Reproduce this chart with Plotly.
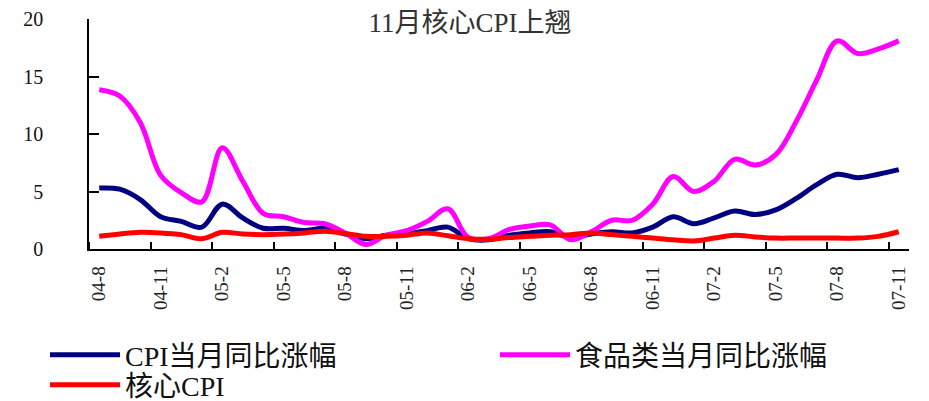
import plotly.graph_objects as go

# ──────────────────────────────────────────────────────────────────────
# Data (monthly, Aug 2004 – Nov 2007, % yoy)
# ──────────────────────────────────────────────────────────────────────
months = [
    "04-8", "04-9", "04-10", "04-11", "04-12",
    "05-1", "05-2", "05-3", "05-4", "05-5", "05-6",
    "05-7", "05-8", "05-9", "05-10", "05-11", "05-12",
    "06-1", "06-2", "06-3", "06-4", "06-5", "06-6",
    "06-7", "06-8", "06-9", "06-10", "06-11", "06-12",
    "07-1", "07-2", "07-3", "07-4", "07-5", "07-6",
    "07-7", "07-8", "07-9", "07-10", "07-11",
]

cpi_yoy = [
    5.3, 5.2, 4.3, 2.8, 2.4,
    1.9, 3.9, 2.7, 1.8, 1.8, 1.6, 1.8, 1.3, 0.9, 1.2, 1.3, 1.6,
    1.9, 0.9, 0.8, 1.2, 1.4, 1.5, 1.0, 1.3, 1.5, 1.4, 1.9, 2.8,
    2.2, 2.7, 3.3, 3.0, 3.4, 4.4, 5.6, 6.5, 6.2, 6.5, 6.9,
]

food_yoy = [
    13.85, 13.3, 11.0, 6.4, 4.9,
    4.1, 8.8, 5.9, 3.1, 2.8, 2.3, 2.2, 1.4, 0.4, 1.2, 1.6, 2.4,
    3.5, 1.0, 0.9, 1.7, 2.0, 2.1, 0.8, 1.5, 2.5, 2.5, 3.9, 6.3,
    5.0, 5.9, 7.8, 7.3, 8.2, 11.1, 14.7, 18.1, 17.0, 17.4, 18.1,
]

core_cpi = [
    1.1, 1.3, 1.45, 1.4, 1.25,
    0.9, 1.45, 1.3, 1.25, 1.3, 1.4, 1.55, 1.35, 1.1, 1.1, 1.2, 1.4,
    1.15, 0.9, 0.85, 1.0, 1.1, 1.2, 1.25, 1.4, 1.25, 1.1, 0.95, 0.8,
    0.7, 0.95, 1.2, 1.05, 0.95, 0.95, 0.95, 0.95, 0.95, 1.1, 1.5,
]

y_ticks = [0, 5, 10, 15, 20]
series_names = ["CPI当月同比涨幅", "食品类当月同比涨幅", "核心CPI"]
title_text = "11月核心CPI上翘"

# ──────────────────────────────────────────────────────────────────────
# Style
# ──────────────────────────────────────────────────────────────────────
FONT = "Liberation Serif, Noto Sans CJK SC, serif"
COLORS = ["#000080", "#FF00FF", "#FF0000"]
W, H = 929, 401
PAGE_PAD = 8  # default body margin of the html page

x = list(range(len(months)))
label_idx = x[::3]

fig = go.Figure()
for name, vals, color, leg in zip(
    series_names,
    [cpi_yoy, food_yoy, core_cpi],
    COLORS,
    ["legend", "legend2", "legend3"],
):
    fig.add_trace(go.Scatter(
        x=x,
        y=vals,
        mode="lines",
        name=name,
        legend=leg,
        showlegend=True,
        line=dict(color=color, width=5, shape="spline", smoothing=1.0),
        hoverinfo="skip",
    ))

legend_common = dict(
    orientation="h",
    bgcolor="rgba(0,0,0,0)",
    font=dict(family=FONT, size=28, color="#111111"),
    itemwidth=70,
    xref="container",
    yref="container",
    xanchor="left",
    yanchor="middle",
)


def cx(px):
    return (px - PAGE_PAD) / W


def cy(px):
    return 1 - (px - PAGE_PAD) / H


fig.update_layout(
    width=W,
    height=H,
    showlegend=True,
    margin=dict(l=89 - PAGE_PAD, r=20 + PAGE_PAD, t=19 - PAGE_PAD,
                b=152 + PAGE_PAD, autoexpand=False),
    plot_bgcolor="white",
    paper_bgcolor="white",
    title=dict(
        text=title_text,
        x=cx(470),
        xanchor="center",
        y=cy(23),
        yanchor="middle",
        font=dict(family=FONT, size=27, color="#333333"),
    ),
    xaxis=dict(
        range=[-0.5, len(months) - 0.5],
        tickmode="array",
        tickvals=label_idx,
        ticktext=[months[i] for i in label_idx],
        tickangle=-90,
        ticks="",
        ticklabelstandoff=8,
        tickfont=dict(family=FONT, size=19, color="#222222"),
        showline=True,
        linecolor="black",
        linewidth=1.5,
        showgrid=False,
        zeroline=False,
        minor=dict(
            tickmode="array",
            tickvals=[i - 0.5 for i in label_idx],
            ticks="inside",
            ticklen=7,
            tickwidth=1.5,
            tickcolor="black",
            showgrid=False,
        ),
    ),
    yaxis=dict(
        range=[0, 20],
        tickmode="array",
        tickvals=y_ticks,
        ticks="inside",
        ticklen=10,
        tickwidth=1.5,
        tickcolor="black",
        ticklabelstandoff=40,
        tickfont=dict(family=FONT, size=20, color="#111111"),
        showline=True,
        linecolor="black",
        linewidth=1.5,
        showgrid=False,
        zeroline=False,
    ),
    legend=dict(x=cx(45), y=cy(355), **legend_common),
    legend2=dict(x=cx(495), y=cy(355), **legend_common),
    legend3=dict(x=cx(45), y=cy(385), **legend_common),
)

fig.write_html("out.html")
